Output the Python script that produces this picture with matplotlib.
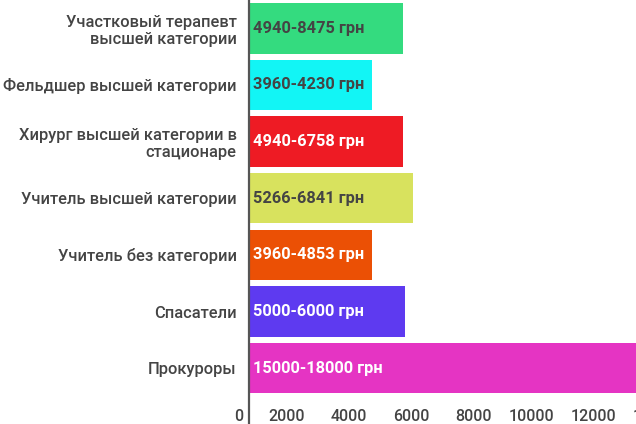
import numpy as np
import matplotlib.pyplot as plt
import matplotlib.transforms as mtransforms

categories = ['Участковый терапевт\nвысшей категории', 'Фельдшер высшей категории',
              'Хирург высшей категории в\nстационаре', 'Учитель высшей категории',
              'Учитель без категории', 'Спасатели', 'Прокуроры']
low_values = [4940, 3960, 4940, 5266, 3960, 5000, 15000]
high_values = [8475, 4230, 6758, 6841, 4853, 6000, 18000]
bar_colors = ['#34db7f', '#12f5f5', '#ee1b24', '#d8e25e', '#eb5005', '#5e3af0', '#e534c3']
text_colors = ['#444444', '#444444', 'white', '#444444', 'white', 'white', 'white']
x_ticks = [0, 2000, 4000, 6000, 8000, 10000, 12000, 14000]

plt.rcParams['font.family'] = ['Roboto', 'DejaVu Sans']

fig = plt.figure(figsize=(6.36, 4.24), dpi=100)
# axes run past the right edge on purpose (the reference is a crop)
ax = fig.add_axes([249 / 636, 1 - 396.5 / 424, 622 / 636, 396.5 / 424])

y = np.arange(len(categories))
ax.barh(y, low_values, height=0.89, color=bar_colors, edgecolor='none')

for i, (lo, hi) in enumerate(zip(low_values, high_values)):
    ax.text(130, i, f'{lo}-{hi} грн', va='center', ha='left', fontsize=11.8,
            fontweight='bold', color=text_colors[i])

ax.set_xlim(0, 20000)
ax.set_ylim(len(categories) - 0.5, -0.5)
ax.set_yticks(y)
ax.set_yticklabels(categories, fontsize=11.9, fontweight='medium', color='#444444',
                   linespacing=1.15)
ax.set_xticks(x_ticks)
ax.set_xticklabels([str(t) for t in x_ticks], fontsize=11.5, fontweight='medium', color='#444444')
ax.tick_params(axis='y', length=0, pad=9)
ax.tick_params(axis='x', length=0, pad=9)

offset = mtransforms.ScaledTranslation(-6 / 100, 0, fig.dpi_scale_trans)
for lbl in ax.get_xticklabels():
    lbl.set_horizontalalignment('right')
    lbl.set_transform(lbl.get_transform() + offset)

for s in ax.spines.values():
    s.set_visible(False)
ax.axvline(0, ymin=-0.1, ymax=1, color='#555555', linewidth=1.6, clip_on=False)

fig.savefig('out.png', dpi=100)
